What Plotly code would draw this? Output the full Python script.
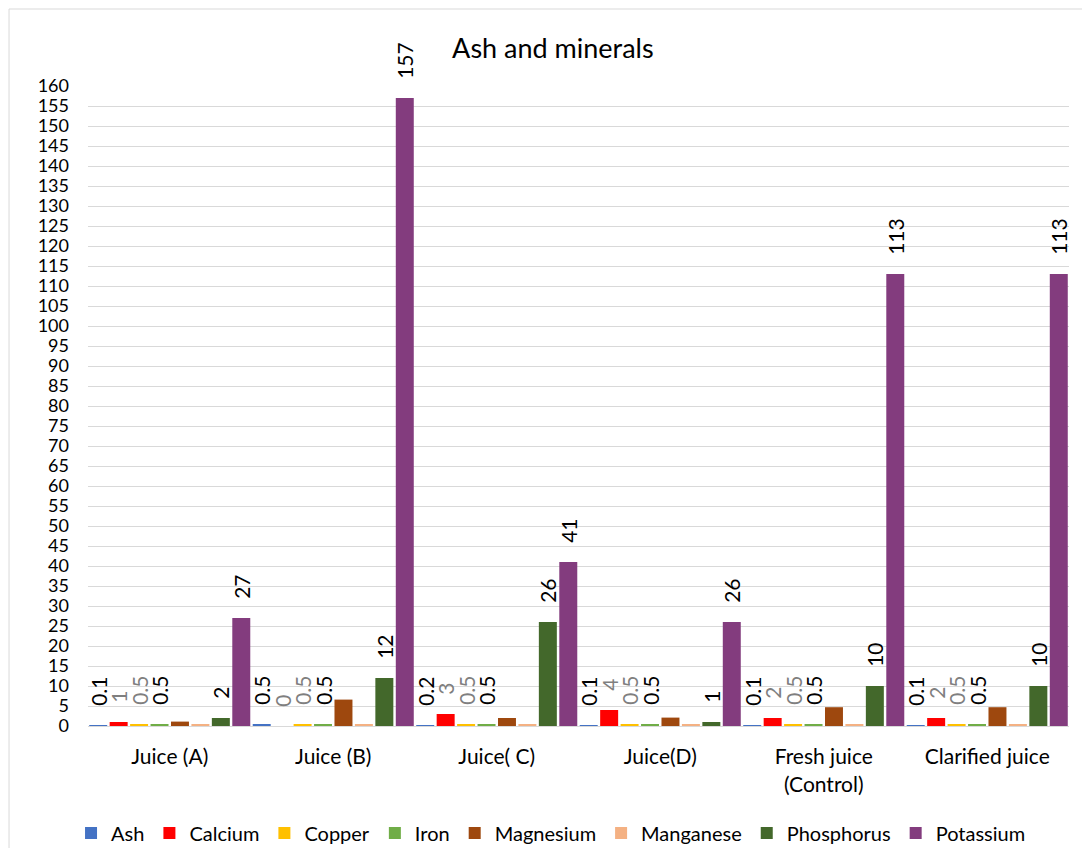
import plotly.graph_objects as go

# Samples on the x axis
categories = ["Juice (A)", "Juice (B)", "Juice( C)", "Juice(D)",
              "Fresh juice<br>(Control)", "Clarified juice"]

# Measured contents per sample
ash = [0.1, 0.5, 0.2, 0.1, 0.1, 0.1]
calcium = [1, 0, 3, 4, 2, 2]
copper = [0.5, 0.5, 0.5, 0.5, 0.5, 0.5]
iron = [0.5, 0.5, 0.5, 0.5, 0.5, 0.5]
magnesium = [1.1, 6.6, 2.0, 2.1, 4.7, 4.7]
manganese = [0.5, 0.5, 0.5, 0.5, 0.5, 0.5]
phosphorus = [2, 12, 26, 1, 10, 10]
potassium = [27, 157, 41, 26, 113, 113]

# y-axis ticks
y_ticks = list(range(0, 161, 5))

FONT = "Lato"
# non-breaking spaces lift the rotated value labels off the bar tops
LABEL_PAD = "\u00a0\u00a0\u00a0"

# name, values, colour, label colour (None = no value labels)
series = [
    ("Ash", ash, "#4472C4", "#000000"),
    ("Calcium", calcium, "#FF0000", "#7F7F7F"),
    ("Copper", copper, "#FFC000", "#7F7F7F"),
    ("Iron", iron, "#70AD47", "#000000"),
    ("Magnesium", magnesium, "#9E480E", None),
    ("Manganese", manganese, "#F4B183", None),
    ("Phosphorus", phosphorus, "#43682B", "#000000"),
    ("Potassium", potassium, "#833C7E", "#000000"),
]

fig = go.Figure()
for name, vals, color, label_color in series:
    if label_color is not None:
        kw = dict(
            text=[f"{v:g}" for v in vals],
            textposition="outside",
            textangle=-90,
            constraintext="none",
            outsidetextfont=dict(family=FONT, size=21, color=label_color),
            texttemplate=LABEL_PAD + "%{text}",
        )
    else:
        kw = dict(textposition="none")
    fig.add_trace(go.Bar(
        name=name, x=categories, y=vals,
        marker=dict(color=color, line=dict(width=0)),
        cliponaxis=False, **kw,
    ))

fig.update_layout(
    width=1082, height=848,
    paper_bgcolor="white", plot_bgcolor="white",
    margin=dict(l=88, r=13, t=86, b=122, autoexpand=False),
    barmode="group", bargap=0.0, bargroupgap=0.12,
    font=dict(family=FONT, size=18, color="#000000"),
    title=dict(text="Ash and minerals", x=0.511, xref="container",
               y=0.943, yref="container", xanchor="center", yanchor="middle",
               font=dict(family=FONT, size=27, color="#000000"),
               automargin=False),
    legend=dict(orientation="h", x=0.472, xanchor="center",
                y=0.0177, yref="container", yanchor="middle",
                font=dict(family=FONT, size=20, color="#000000"),
                traceorder="normal", itemclick=False),
    xaxis=dict(showgrid=False, showline=True, linecolor="#D9D9D9",
               linewidth=1, ticks="", tickfont=dict(size=21),
               ticklabelstandoff=12, automargin=False),
    yaxis=dict(range=[0, 160], tickvals=y_ticks, showgrid=True,
               gridcolor="#D9D9D9", gridwidth=1, zeroline=False,
               showline=False, ticks="", tickfont=dict(size=18),
               ticklabelstandoff=18, automargin=False),
    shapes=[dict(type="rect", xref="paper", yref="paper",
                 x0=-0.0805, x1=1.03, y0=-0.23, y1=1.1203,
                 line=dict(color="#D9D9D9", width=1),
                 fillcolor="rgba(0,0,0,0)", layer="below")],
)

fig.write_html("out.html")
